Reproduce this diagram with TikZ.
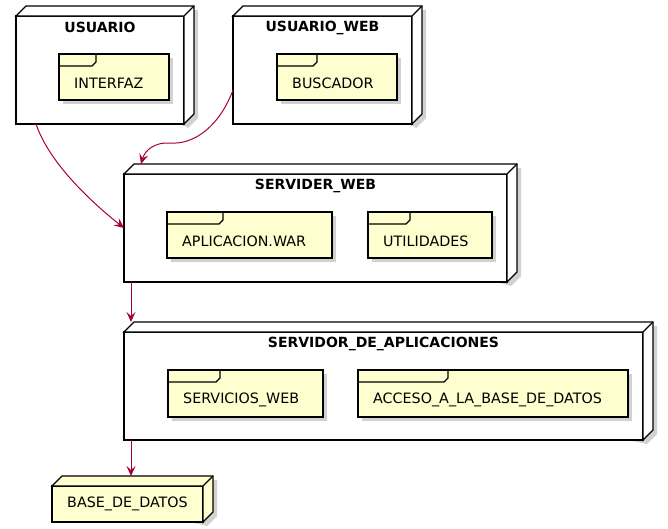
\documentclass[tikz,border=0pt]{standalone}
\usepackage{fontspec}
\setmainfont{DejaVu Sans}
\usetikzlibrary{arrows.meta}
\definecolor{pyellow}{HTML}{FEFECE}
\definecolor{parrow}{HTML}{A80036}
\tikzset{
  frontbox/.style={draw=black, line width=1.3pt, inner sep=0pt, outer sep=0pt, anchor=north west},
  edgethree/.style={draw=black, line width=1.3pt, line join=miter},
  shadowc/.style={fill=black, opacity=0.18},
  pkgbox/.style={draw=black, line width=1.3pt, fill=pyellow, inner sep=0pt, outer sep=0pt, anchor=north west},
  pkgline/.style={draw=black, line width=1.3pt},
  pkgtext/.style={inner sep=0pt, anchor=west, font=\fontsize{14.3}{16}\selectfont},
  titletext/.style={inner sep=0pt, font=\fontsize{14}{16}\selectfont\bfseries},
  conn/.style={draw=parrow, line width=1pt, -{Stealth[length=10pt, width=9pt, inset=4pt]}},
}
\newcommand\depnode[6]{%
  \pgfmathsetmacro\dw{#4-#2}\pgfmathsetmacro\dh{#5-#3}%
  \fill[shadowc] (#2+4,#3+4) -- (#2+14,#3-6) -- (#4+14,#3-6) -- (#4+14,#5-6) -- (#4+4,#5+4) -- cycle;
  \node[frontbox, fill=#6, minimum width=\dw pt, minimum height=\dh pt] (#1) at (#2,#3) {};
  \draw[edgethree, fill=#6] (#1.north west) -- ++(10,-10) -- ++(\dw,0) -- ++(0,\dh) -- (#1.south east) -- (#1.north east) -- cycle;
  \draw[edgethree] (#1.north east) -- ++(10,-10);
}
\newcommand\pkgnode[7]{%
  \pgfmathsetmacro\pw{#4-#2}\pgfmathsetmacro\ph{#5-#3}%
  \fill[shadowc] (#2+4,#3+4) rectangle (#4+4,#5+4);
  \node[pkgbox, minimum width=\pw pt, minimum height=\ph pt] (#1) at (#2,#3) {};
  \draw[pkgline] (#1.north west) -- (#6,#3) -- (#6,#3+8) -- (#6-4,#3+12) -- (#2,#3+12);
  \node[pkgtext] (#1-t) at (#2+15,{(#3+12+#5)/2}) {#7};
}
\begin{document}
\begin{tikzpicture}[x=1pt, y=-1pt]
\useasboundingbox (0,0) rectangle (668,528);

\depnode{usuario}{16}{16}{184}{124}{white}
\node[titletext] (usuario-t) at ([yshift=-11.5pt]usuario.north) {USUARIO};
\pkgnode{interfaz}{59}{54}{169}{100}{96}{INTERFAZ}

\depnode{uweb}{233}{16}{412}{124}{white}
\node[titletext] (uweb-t) at ([yshift=-11.5pt]uweb.north) {USUARIO\_WEB};
\pkgnode{buscador}{277}{54}{397}{100}{317}{BUSCADOR}

\depnode{sweb}{124}{174}{507}{282}{white}
\node[titletext] (sweb-t) at ([yshift=-12pt]sweb.north) {SERVIDER\_WEB};
\pkgnode{aplic}{167}{212}{332}{258}{223}{APLICACION.WAR}
\pkgnode{util}{368}{212}{492}{258}{410}{UTILIDADES}

\depnode{sapp}{124}{332}{643}{440}{white}
\node[titletext] (sapp-t) at ([yshift=-11.5pt]sapp.north) {SERVIDOR\_DE\_APLICACIONES};
\pkgnode{serv}{168}{370}{323}{417}{220}{SERVICIOS\_WEB}
\pkgnode{acceso}{358}{370}{628}{417}{448}{ACCESO\_A\_LA\_BASE\_DE\_DATOS}

\depnode{bd}{52}{486}{203}{522}{pyellow}
\node[inner sep=0pt, font=\fontsize{14.3}{16}\selectfont] (bd-t) at (bd.center) {BASE\_DE\_DATOS};

\draw[conn] ([xshift=20pt]usuario.south west) .. controls (50,165) and (95,205) .. (sweb.west);
\draw[conn] ([yshift=-20pt]uweb.west) .. controls (220,125) and (195,145) .. (170,143)
  .. controls (155,142) and (145,150) .. ([shift={(17,-10)}]sweb.north west);
\draw[conn] ([xshift=7pt]sweb.south west) -- ([shift={(7,-10)}]sapp.north west);
\draw[conn] ([xshift=7pt]sapp.south west) -- ([shift={(79,-10)}]bd.north west);
\end{tikzpicture}
\end{document}
